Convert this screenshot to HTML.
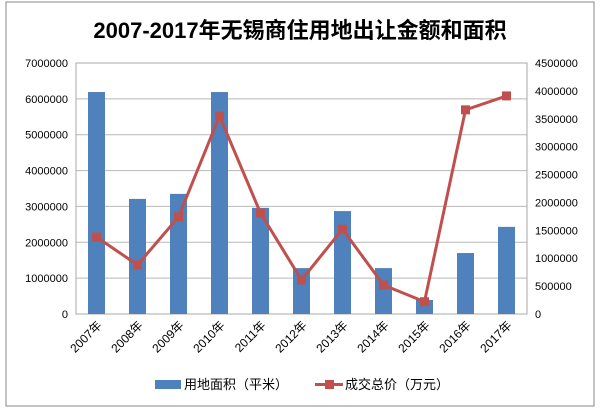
<!DOCTYPE html>
<html><head><meta charset="utf-8"><style>
body{margin:0;background:#fff;}
svg text{font-family:"Liberation Sans","Noto Sans CJK SC",sans-serif;}
</style></head><body>
<svg width="600" height="408" id="c">
<rect x="6" y="2" width="588" height="404" fill="#fff" stroke="#888"/>
<text x="300" y="38" text-anchor="middle" font-size="22" font-weight="bold" fill="#000">2007-2017年无锡商住用地出让金额和面积</text>
<g id="g"></g>
<g>
<rect x="155" y="380" width="26" height="9" fill="#4f81bd"/>
<text x="184" y="389" font-size="13" fill="#000">用地面积（平米）</text>
<line x1="315" y1="384.5" x2="343" y2="384.5" stroke="#c0504d" stroke-width="3"/>
<rect x="325" y="380" width="9" height="9" fill="#c0504d"/>
<text x="345" y="389" font-size="13" fill="#000">成交总价（万元）</text>
</g>
</svg>
<script>
const categories=["2007年","2008年","2009年","2010年","2011年","2012年","2013年","2014年","2015年","2016年","2017年"];
const areaValues=[6190000,3210000,3350000,6190000,2960000,1280000,2870000,1280000,390000,1700000,2430000];
const priceValues=[1380000,880000,1740000,3550000,1810000,610000,1520000,520000,220000,3660000,3910000];
const leftTicks=[0,1000000,2000000,3000000,4000000,5000000,6000000,7000000];
const rightTicks=[0,500000,1000000,1500000,2000000,2500000,3000000,3500000,4000000,4500000];
const NS="http://www.w3.org/2000/svg",g=document.getElementById('g');
const L=76,R=527,T=63,B=314;
const yL=v=>B-v/7000000*(B-T), yR=v=>B-v/4500000*(B-T);
const step=(R-L)/categories.length, xC=i=>L+step*(i+0.5);
function mk(t,a){const e=document.createElementNS(NS,t);for(const k in a)e.setAttribute(k,a[k]);g.appendChild(e);return e;}
leftTicks.forEach(v=>{const l=mk('line',{x1:L,x2:R,y1:yL(v),y2:yL(v),stroke:'#b8b8b8'});


const t=mk('text',{x:L-8,y:yL(v)+4,'text-anchor':'end','font-size':11,fill:'#000'});t.textContent=v;

});
rightTicks.forEach(v=>{const t=mk('text',{x:R+8,y:yR(v)+4,'text-anchor':'start','font-size':11,fill:'#000'});t.textContent=v;

});
const fr=mk('rect',{x:L,y:T,width:R-L,height:B-T,fill:'none',stroke:'#aaa'});


areaValues.forEach((v,i)=>{const b=mk('rect',{x:xC(i)-8.5,y:yL(v),width:17,height:B-yL(v),fill:'#4f81bd'});

});
const pl=mk('polyline',{points:priceValues.map((v,i)=>xC(i)+','+yR(v)).join(' '),fill:'none',stroke:'#c0504d','stroke-width':3});


priceValues.forEach((v,i)=>{const m=mk('rect',{x:xC(i)-4.5,y:yR(v)-4.5,width:9,height:9,fill:'#c0504d'});

});
categories.forEach((c,i)=>{const x=xC(i)+6,y=B+12;const t=mk('text',{x:x,y:y,'text-anchor':'end','font-size':12,fill:'#000',transform:`rotate(-45 ${x} ${y})`});t.textContent=c;

});
</script>
</body></html>
